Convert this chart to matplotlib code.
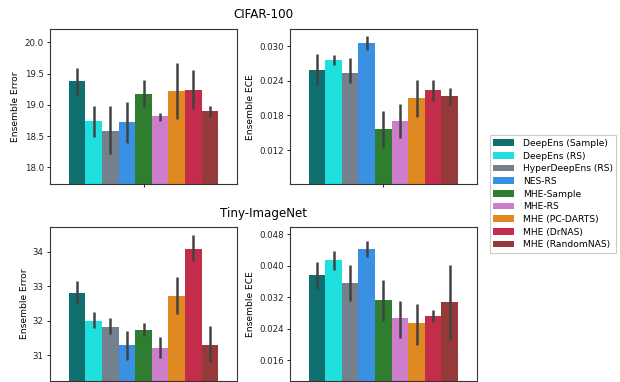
import matplotlib
matplotlib.use("Agg")
import matplotlib.pyplot as plt
from matplotlib.patches import Patch
import seaborn as sns

methods = ["DeepEns (Sample)", "DeepEns (RS)", "HyperDeepEns (RS)", "NES-RS",
           "MHE-Sample", "MHE-RS", "MHE (PC-DARTS)", "MHE (DrNAS)", "MHE (RandomNAS)"]
base_colors = ["teal", "cyan", "slategray", "dodgerblue", "forestgreen",
               "orchid", "darkorange", "crimson", "brown"]

cifar_err = [19.38, 18.735, 18.59, 18.72, 19.18, 18.815, 19.22, 19.245, 18.895]
cifar_err_lo = [19.165, 18.485, 18.22, 18.39, 18.96, 18.75, 18.78, 18.94, 18.81]
cifar_err_hi = [19.59, 18.975, 18.975, 19.05, 19.40, 18.87, 19.665, 19.56, 18.98]

cifar_ece = [0.02585, 0.02758, 0.02533, 0.03052, 0.01564, 0.01702, 0.0210, 0.02238, 0.02135]
cifar_ece_lo = [0.02325, 0.02665, 0.02366, 0.02925, 0.01234, 0.01419, 0.01771, 0.02053, 0.01979]
cifar_ece_hi = [0.02856, 0.02844, 0.02787, 0.03173, 0.01875, 0.02002, 0.02406, 0.02411, 0.02273]

tiny_err = [32.80, 31.995, 31.81, 31.29, 31.73, 31.20, 32.72, 34.08, 31.30]
tiny_err_lo = [32.48, 31.78, 31.60, 30.86, 31.55, 30.93, 32.19, 33.72, 30.81]
tiny_err_hi = [33.15, 32.25, 32.08, 31.71, 31.93, 31.53, 33.27, 34.47, 31.83]

tiny_ece = [0.0377, 0.0414, 0.0357, 0.0443, 0.03137, 0.0268, 0.0256, 0.02737, 0.0309]
tiny_ece_lo = [0.0342, 0.0390, 0.0312, 0.0423, 0.0259, 0.0218, 0.0200, 0.0258, 0.0213]
tiny_ece_hi = [0.0409, 0.0438, 0.0403, 0.0462, 0.0365, 0.0311, 0.0303, 0.0287, 0.0401]

cifar_err_ticks = [18.0, 18.5, 19.0, 19.5, 20.0]
cifar_ece_ticks = [0.012, 0.018, 0.024, 0.030]
tiny_err_ticks = [31, 32, 33, 34]
tiny_ece_ticks = [0.016, 0.024, 0.032, 0.040, 0.048]

colors = [sns.desaturate(c, 0.75) for c in base_colors]

plt.rcParams['font.family'] = ['DejaVu Sans']

W, H = 620, 382
fig = plt.figure(figsize=(6.2, 3.82), dpi=100)

def ax_at(x0, x1, y0, y1):
    return fig.add_axes([x0 / W, 1 - y1 / H, (x1 - x0) / W, (y1 - y0) / H])

panels = [
    (ax_at(50, 237, 29.3, 184.3), cifar_err, cifar_err_lo, cifar_err_hi, (17.73, 20.21), cifar_err_ticks, "Ensemble Error", "{:.1f}"),
    (ax_at(290, 476.7, 29.3, 184.3), cifar_ece, cifar_ece_lo, cifar_ece_hi, (0.0061, 0.0329), cifar_ece_ticks, "Ensemble ECE", "{:.3f}"),
    (ax_at(50, 237, 226.7, 380.7), tiny_err, tiny_err_lo, tiny_err_hi, (30.26, 34.72), tiny_err_ticks, "Ensemble Error", "{:.0f}"),
    (ax_at(290, 476.7, 226.7, 380.7), tiny_ece, tiny_ece_lo, tiny_ece_hi, (0.01086, 0.04993), tiny_ece_ticks, "Ensemble ECE", "{:.3f}"),
]

n = len(methods)
bw = 0.8 / n
xs = [-0.4 + (i + 0.5) * bw for i in range(n)]

for ax, vals, lo, hi, ylim, ticks, ylabel, fmt in panels:
    ax.bar(xs, vals, width=bw, color=colors, bottom=0)
    ax.vlines(xs, lo, hi, color=(0.26, 0.26, 0.26), lw=1.8, zorder=3)
    ax.set_xlim(-0.5, 0.5)
    ax.set_ylim(*ylim)
    ax.set_xticks([0])
    ax.set_xticklabels([""])
    ax.set_yticks(ticks)
    ax.set_yticklabels([fmt.format(t) for t in ticks])
    ax.tick_params(labelsize=6.2, length=2.5, width=0.7, pad=2, colors='#222222')
    ax.set_ylabel(ylabel, fontsize=6.6, labelpad=3)
    for s in ax.spines.values():
        s.set_color('#333333')
        s.set_linewidth(0.8)

fig.text(263.5 / W, 1 - 15 / H, "CIFAR-100", ha='center', va='center', fontsize=8.6)
fig.text(263.5 / W, 1 - 213 / H, "Tiny-ImageNet", ha='center', va='center', fontsize=8.6)

handles = [Patch(facecolor=c, label=m) for c, m in zip(colors, methods)]
leg = fig.legend(handles=handles, loc='upper left',
                 bbox_to_anchor=(489.7 / W, 1 - 135.3 / H), borderaxespad=0,
                 fontsize=6.6, handlelength=2.3, handleheight=0.76,
                 labelspacing=0.4, handletextpad=0.9, fancybox=False,
                 framealpha=1, edgecolor='#cccccc')
leg.get_frame().set_linewidth(0.8)

fig.savefig("out.png", dpi=100)
